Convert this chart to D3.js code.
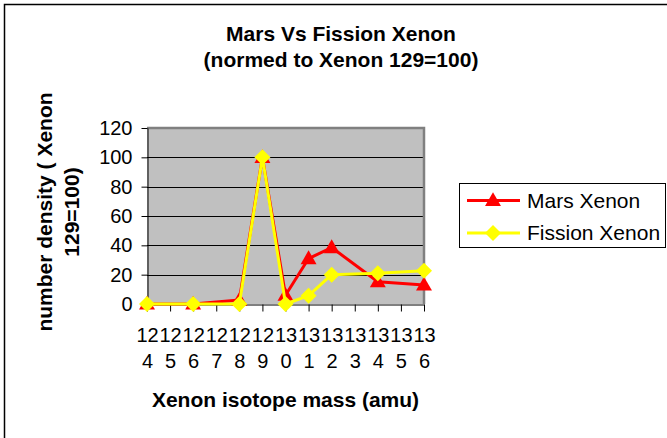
<!DOCTYPE html>
<html>
<head>
<meta charset="utf-8">
<script src="https://cdn.jsdelivr.net/npm/d3@7"></script>
<style>
  html, body { margin: 0; padding: 0; background: #fff; }
  svg { display: block; }
  text { font-family: "Liberation Sans", Arial, sans-serif; fill: #000; }
</style>
</head>
<body>
<svg id="chart" width="667" height="438"></svg>
<script>
// Xenon isotope masses (amu) shown on the category axis
const isotopes = ["124","125","126","127","128","129","130","131","132","133","134","135","136"];
// Abundances normalised so that Xe-129 = 100 (null = not measured)
const marsXenon    = [0, null, 0, null, 2.7, 100, 6, 31, 38.5, null, 15.2, null, 13];
const fissionXenon = [0, null, 0, null, 0, 100, 0, 5.7, 20, null, 21, null, 22.7];
const yTicks = [0, 20, 40, 60, 80, 100, 120];
const seriesNames = ["Mars Xenon", "Fission Xenon"];

const svg = d3.select("#chart");
const plot = { left: 147, right: 424, top: 128, bottom: 304 };

const x = d3.scalePoint().domain(isotopes).range([plot.left, plot.right]);
const y = d3.scaleLinear().domain([0, 120]).range([plot.bottom, plot.top]);

// outer chart frame
svg.append("rect")
  .attr("x", 4.5).attr("y", 4.5).attr("width", 720).attr("height", 500)
  .attr("fill", "#fff").attr("stroke", "#000").attr("stroke-width", 1.5);

// title
const title = svg.append("text").attr("text-anchor", "middle")
  .style("font-weight", "bold").style("font-size", "21px");
title.append("tspan").attr("x", 341).attr("y", 41).text("Mars Vs Fission Xenon");
title.append("tspan").attr("x", 341).attr("y", 67).text("(normed to Xenon 129=100)");

// plot background
svg.append("rect")
  .attr("x", plot.left).attr("y", plot.top)
  .attr("width", plot.right - plot.left).attr("height", plot.bottom - plot.top)
  .attr("fill", "#c0c0c0");

// horizontal gridlines
svg.append("g").selectAll("line")
  .data(yTicks.filter(d => d > 0 && d < 120))
  .join("line")
  .attr("x1", plot.left).attr("x2", plot.right)
  .attr("y1", d => Math.round(y(d)) + 0.5).attr("y2", d => Math.round(y(d)) + 0.5)
  .attr("stroke", "#000").attr("stroke-width", 1);

// plot area border (top and right)
svg.append("path")
  .attr("d", `M${plot.left},${plot.top} H${plot.right} V${plot.bottom}`)
  .attr("fill", "none").attr("stroke", "#808080").attr("stroke-width", 2.5);

// y axis
const yAxis = svg.append("g")
  .attr("transform", `translate(${plot.left + 0.5},0)`)
  .call(d3.axisLeft(y).tickValues(yTicks).tickSize(6).tickPadding(9).tickSizeOuter(0));
yAxis.select(".domain").attr("stroke", "#000");
yAxis.selectAll(".tick line").attr("stroke", "#000");
yAxis.selectAll(".tick text")
  .style("font-size", "20px").attr("fill", "#000")
  .attr("font-family", null);

// x axis, labels broken over two lines
const xAxis = svg.append("g")
  .attr("transform", `translate(0,${plot.bottom + 0.5})`)
  .call(d3.axisBottom(x).tickSize(7).tickSizeOuter(0).tickFormat(""));
xAxis.select(".domain").attr("stroke", "#000");
xAxis.selectAll(".tick line").attr("stroke", "#000");
xAxis.selectAll(".tick").each(function (d) {
  const t = d3.select(this).append("text")
    .attr("text-anchor", "middle").style("font-size", "20px").attr("fill", "#000");
  t.append("tspan").attr("x", 0).attr("y", 37).text(d.slice(0, 2));
  t.append("tspan").attr("x", 0).attr("y", 63).text(d.slice(2));
});

// axis titles
svg.append("text")
  .attr("x", (plot.left + plot.right) / 2).attr("y", 407)
  .attr("text-anchor", "middle")
  .style("font-weight", "bold").style("font-size", "21px")
  .text("Xenon isotope mass (amu)");

const yTitle = svg.append("text")
  .attr("transform", "translate(0,212) rotate(-90)")
  .attr("text-anchor", "middle")
  .style("font-weight", "bold").style("font-size", "21px");
yTitle.append("tspan").attr("x", 0).attr("y", 52).text("number density ( Xenon");
yTitle.append("tspan").attr("x", 0).attr("y", 79).text("129=100)");

// series drawing helpers
const triangle = d3.symbol().type(d3.symbolTriangle).size(110);
const diamond = s => `M0,${-s} L${s},0 L0,${s} L${-s},0 Z`;

const series = [
  { name: seriesNames[0], values: marsXenon, color: "#ff0000", marker: "triangle" },
  { name: seriesNames[1], values: fissionXenon, color: "#ffff00", marker: "diamond" }
];

const line = d3.line()
  .x(d => x(d.k))
  .y(d => y(d.v));

function drawMarker(sel, marker, color) {
  if (marker === "triangle") {
    sel.append("path").attr("d", triangle()).attr("transform", "translate(0,1)")
      .attr("fill", color);
  } else {
    sel.append("path").attr("d", diamond(8)).attr("fill", color);
  }
}

series.forEach(s => {
  const pts = isotopes.map((k, i) => ({ k, v: s.values[i] })).filter(p => p.v !== null);
  const g = svg.append("g");
  g.append("path").datum(pts)
    .attr("d", line).attr("fill", "none")
    .attr("stroke", s.color).attr("stroke-width", 3).attr("stroke-linejoin", "round");
  g.selectAll("g.pt").data(pts).join("g")
    .attr("class", "pt")
    .attr("transform", p => `translate(${x(p.k)},${y(p.v)})`)
    .each(function () { drawMarker(d3.select(this), s.marker, s.color); });
});

// legend
const legend = svg.append("g");
legend.append("rect")
  .attr("x", 459.5).attr("y", 183.5).attr("width", 206).attr("height", 64)
  .attr("fill", "#fff").attr("stroke", "#000").attr("stroke-width", 1);
series.forEach((s, i) => {
  const cy = 200.5 + i * 32.5;
  const row = legend.append("g");
  row.append("line").attr("x1", 467).attr("x2", 520).attr("y1", cy).attr("y2", cy)
    .attr("stroke", s.color).attr("stroke-width", 3);
  const m = row.append("g").attr("transform", `translate(493,${cy})`);
  drawMarker(m, s.marker, s.color);
  row.append("text").attr("x", 527).attr("y", cy + 7)
    .style("font-size", "21px").text(s.name);
});
</script>
</body>
</html>
